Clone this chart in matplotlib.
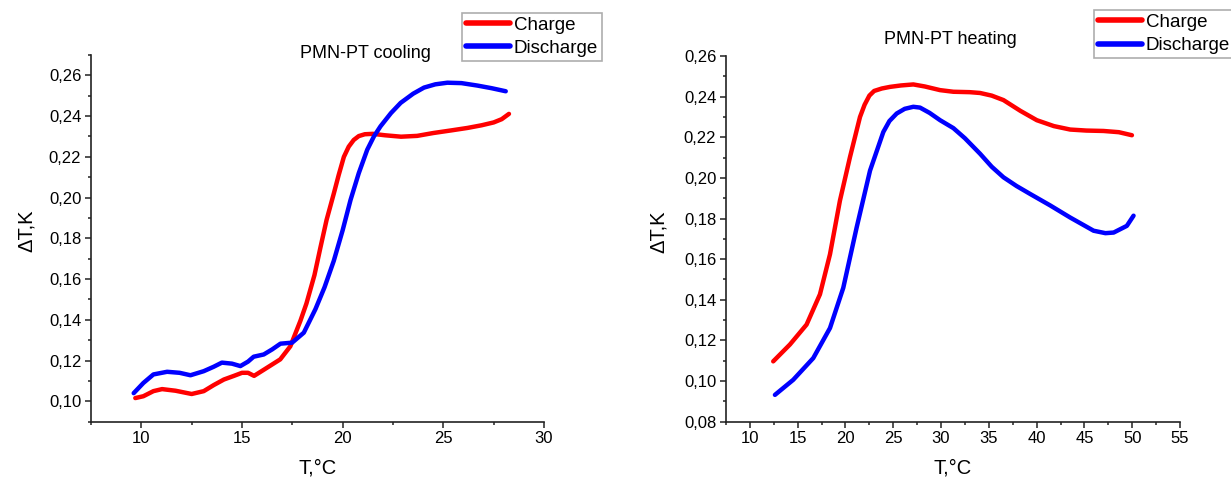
import matplotlib
matplotlib.use("Agg")
import matplotlib.pyplot as plt
from matplotlib.ticker import MultipleLocator, FuncFormatter

plt.rcParams['font.family'] = ['Liberation Sans', 'DejaVu Sans']

# cooling (left panel)
cool_charge_T = [9.70, 10.1, 10.6, 11.03, 11.7, 12.5, 13.1, 13.6, 14.1, 14.6, 15.0, 15.3, 15.6,
                 16.1, 16.9, 17.4, 17.9, 18.2, 18.6, 18.9, 19.2, 19.56, 19.8, 20.06, 20.3, 20.55,
                 20.8, 21.1, 21.5, 22.1, 22.9, 23.7, 24.5, 25.4, 26.2, 26.9, 27.5, 27.9, 28.26]
cool_charge_dT = [0.1016, 0.1025, 0.1050, 0.1060, 0.1052, 0.1036, 0.1050, 0.1080, 0.1107, 0.1125,
                  0.1140, 0.1140, 0.1125, 0.1156, 0.1206, 0.1270, 0.1395, 0.1480, 0.1620, 0.1757,
                  0.1890, 0.2020, 0.2110, 0.2200, 0.2250, 0.2283, 0.2302, 0.2311, 0.2313, 0.2306,
                  0.2299, 0.2303, 0.2317, 0.2330, 0.2342, 0.2355, 0.2369, 0.2385, 0.2411]
cool_dis_T = [9.62, 10.1, 10.6, 11.28, 11.9, 12.44, 13.1, 13.6, 14.0, 14.5, 14.92, 15.3, 15.58,
              16.08, 16.5, 16.91, 17.49, 18.07, 18.65, 19.1, 19.56, 20.0, 20.39, 20.8, 21.22,
              21.55, 21.88, 22.4, 22.88, 23.5, 24.04, 24.6, 25.2, 25.9, 26.69, 27.4, 28.1]
cool_dis_dT = [0.1040, 0.1090, 0.1132, 0.1145, 0.1140, 0.1128, 0.1148, 0.1170, 0.1190, 0.1185,
               0.1173, 0.1195, 0.1219, 0.1230, 0.1255, 0.1283, 0.1288, 0.1337, 0.1453, 0.1560,
               0.1690, 0.1840, 0.1988, 0.2120, 0.2235, 0.2300, 0.2350, 0.2415, 0.2465, 0.2510,
               0.2540, 0.2556, 0.2564, 0.2562, 0.2550, 0.2537, 0.2522]

# heating (right panel)
heat_charge_T = [12.44, 14.19, 15.93, 17.33, 18.38, 19.42, 20.47, 21.52, 22.0, 22.5, 23.0, 23.8,
                 24.66, 25.8, 27.1, 28.3, 29.9, 31.29, 33.0, 34.08, 35.3, 36.53, 38.3, 40.02,
                 41.8, 43.51, 45.2, 47.0, 48.6, 49.97]
heat_charge_dT = [0.1097, 0.1180, 0.1278, 0.1427, 0.1624, 0.1888, 0.2102, 0.2300, 0.2360, 0.2405,
                  0.2428, 0.2440, 0.2448, 0.2455, 0.2460, 0.2450, 0.2432, 0.2424, 0.2422, 0.2418,
                  0.2405, 0.2383, 0.2330, 0.2284, 0.2255, 0.2238, 0.2233, 0.2231, 0.2225, 0.2210]
heat_dis_T = [12.62, 14.53, 16.63, 18.38, 19.77, 21.17, 22.57, 23.96, 24.6, 25.36, 26.2, 27.1,
              27.8, 28.8, 29.9, 31.29, 32.5, 34.08, 35.3, 36.53, 37.9, 39.32, 41.4, 43.51,
              45.96, 47.2, 48.06, 49.44, 50.14]
heat_dis_dT = [0.0932, 0.1006, 0.1113, 0.1261, 0.1459, 0.1756, 0.2036, 0.2226, 0.2280, 0.2317,
               0.2340, 0.2350, 0.2346, 0.2320, 0.2284, 0.2245, 0.2195, 0.2119, 0.2055, 0.2003,
               0.1960, 0.1921, 0.1865, 0.1805, 0.1740, 0.1728, 0.1731, 0.1764, 0.1814]

W, H = 1231, 479
fig = plt.figure(figsize=(W / 100, H / 100), dpi=100)

axL = fig.add_axes([91 / W, 1 - 421.7 / H, 453 / W, 366.7 / H])
axR = fig.add_axes([726 / W, 1 - 421.7 / H, 454 / W, 365.7 / H])

comma = FuncFormatter(lambda v, p: ("%.2f" % v).replace('.', ','))

def style(ax, xlim, ylim, xticks, yticks):
    ax.set_xlim(*xlim)
    ax.set_ylim(*ylim)
    for s in ['top', 'right']:
        ax.spines[s].set_visible(False)
    for s in ['left', 'bottom']:
        ax.spines[s].set_linewidth(1.2)
        ax.spines[s].set_color('#222222')
    ax.set_xticks(xticks)
    ax.set_yticks(yticks)
    ax.xaxis.set_minor_locator(MultipleLocator(2.5))
    ax.yaxis.set_minor_locator(MultipleLocator(0.01))
    ax.yaxis.set_major_formatter(comma)
    ax.tick_params(which='major', direction='out', length=4, width=1.1, color='#222222',
                   labelsize=12, pad=3)
    ax.tick_params(which='minor', direction='out', length=2.5, width=1.1, color='#222222')
    ax.set_xlabel('T,\u00b0C', fontsize=14.5)
    ax.set_ylabel('\u0394T,K', fontsize=14.5)

style(axL, (7.5, 30), (0.09, 0.27), [10, 15, 20, 25, 30],
      [0.10, 0.12, 0.14, 0.16, 0.18, 0.20, 0.22, 0.24, 0.26])
style(axR, (7.5, 55), (0.08, 0.26), [10, 15, 20, 25, 30, 35, 40, 45, 50, 55],
      [0.08, 0.10, 0.12, 0.14, 0.16, 0.18, 0.20, 0.22, 0.24, 0.26])

for ax, (cT, cdT, dT_, ddT) in [(axL, (cool_charge_T, cool_charge_dT, cool_dis_T, cool_dis_dT)),
                                (axR, (heat_charge_T, heat_charge_dT, heat_dis_T, heat_dis_dT))]:
    ax.plot(cT, cdT, color='#ff0000', lw=3.2, label='Charge',
            solid_capstyle='round', solid_joinstyle='round')
    ax.plot(dT_, ddT, color='#0000ff', lw=3.2, label='Discharge',
            solid_capstyle='round', solid_joinstyle='round')

axL.xaxis.set_label_coords(0.5, -0.1)
axL.yaxis.set_label_coords(-0.122, 0.52)
axR.xaxis.set_label_coords(0.5, -0.1)
axR.yaxis.set_label_coords(-0.127, 0.52)

fig.text(365 / W, 1 - 53 / H, 'PMN-PT cooling', ha='center', va='center', fontsize=13)
fig.text(950 / W, 1 - 40 / H, 'PMN-PT heating', ha='center', va='center', fontsize=13)

for ax, (lx, ly) in [(axL, (462, 12.7)), (axR, (1094, 10))]:
    leg = ax.legend(loc='upper left', bbox_to_anchor=(lx / W, 1 - ly / H),
                    bbox_transform=fig.transFigure, fontsize=13.5, frameon=True,
                    fancybox=False, borderpad=0.2, borderaxespad=0, handlelength=2.35,
                    handletextpad=0.2, labelspacing=0.33)
    leg.get_frame().set_edgecolor('#999999')
    leg.get_frame().set_linewidth(1.2)
    for ln in leg.get_lines():
        ln.set_linewidth(4)

fig.savefig('out.png', dpi=100)
